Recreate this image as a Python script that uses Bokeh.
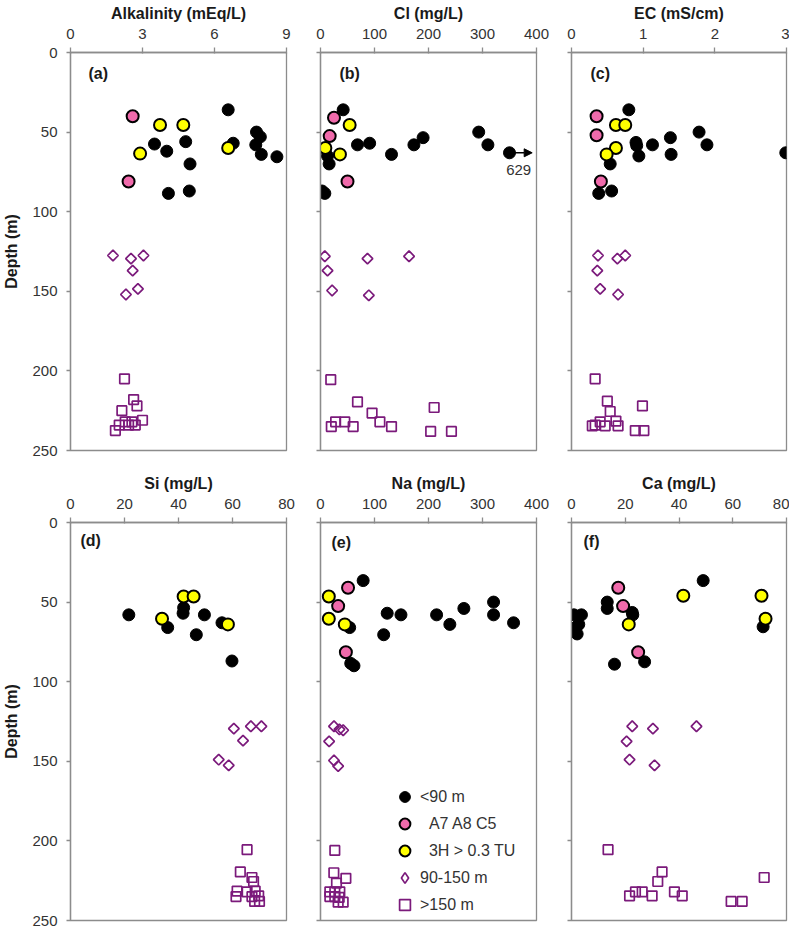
from bokeh.plotting import figure
from bokeh.models import Range1d, FixedTicker, Label, Arrow, NormalHead, Legend, LegendItem
from bokeh.layouts import column, row
from bokeh.embed import file_html
from bokeh.resources import INLINE
import numpy as np

# ---------------- data: (value, depth m) ----------------
DEPTH_TICKS = [0, 50, 100, 150, 200, 250]

ALK_TICKS = [0, 3, 6, 9]
ALK_SHALLOW = [(6.57, 36), (3.50, 57.5), (4.01, 62), (4.80, 56), (4.98, 70), (4.08, 88.5), (4.95, 87),
               (6.78, 57), (7.75, 50), (7.91, 53), (7.72, 58), (7.95, 64), (8.6, 65.5)]
ALK_A7A8C5 = [(2.59, 40), (2.42, 81)]
ALK_TRITIUM = [(3.73, 45.5), (4.70, 45.5), (2.90, 63.5), (6.57, 60)]
ALK_MID = [(1.77, 127.5), (2.52, 129.5), (3.04, 127.5), (2.59, 137), (2.81, 148.5), (2.31, 152)]
ALK_DEEP = [(2.25, 205), (2.63, 218), (2.77, 222), (2.14, 225), (3.00, 231), (2.28, 232), (2.56, 232),
            (2.03, 234), (2.42, 234), (2.70, 234), (1.87, 237.5)]

CL_TICKS = [0, 100, 200, 300, 400]
CL_SHALLOW = [(42, 36), (68.5, 58), (91, 57), (131.5, 64), (173, 58), (190, 53.5), (293, 50), (310, 58),
              (13, 65), (16, 70), (3, 87), (8, 88.5)]
CL_OFFSCALE_VALUE = 629
CL_OFFSCALE_DEPTH = 63
CL_OFFSCALE_PLOT = 350
CL_A7A8C5 = [(25, 41), (17, 52.5), (50, 81)]
CL_TRITIUM = [(54, 45.5), (9, 60), (36, 64)]
CL_MID = [(8, 128), (87, 129.5), (164, 128), (13, 137), (21.5, 149.5), (89.5, 152.5)]
CL_DEEP = [(19, 205.5), (68.5, 219.5), (95.5, 226.5), (210.5, 223), (28, 232), (45, 232), (20, 235),
           (60.5, 235), (110, 232), (131.5, 235), (204, 238), (242.5, 238)]

EC_TICKS = [0, 1, 2, 3]
EC_SHALLOW = [(0.80, 36), (0.90, 56.5), (0.91, 58.5), (0.94, 65), (1.13, 58), (1.38, 53.5), (1.39, 64),
              (1.78, 50), (1.89, 58), (2.99, 63), (0.54, 70), (0.38, 88.5), (0.56, 87)]
EC_A7A8C5 = [(0.35, 40), (0.35, 52), (0.41, 81)]
EC_TRITIUM = [(0.62, 45.5), (0.75, 45.5), (0.62, 60), (0.49, 64)]
EC_MID = [(0.37, 127.5), (0.64, 129.5), (0.75, 127.5), (0.36, 137), (0.40, 148.5), (0.65, 152)]
EC_DEEP = [(0.33, 205), (0.50, 219), (0.54, 225.5), (0.99, 222), (0.33, 234), (0.40, 232), (0.47, 234.5),
           (0.62, 231.5), (0.65, 234.5), (0.89, 237.5), (1.01, 237.5), (0.29, 234.5)]

SI_TICKS = [0, 20, 40, 60, 80]
SI_SHALLOW = [(21.6, 58), (41.9, 53.5), (41.7, 57), (49.6, 58), (36, 66), (46.6, 70.5), (56.1, 63), (59.8, 87)]
SI_A7A8C5 = []
SI_TRITIUM = [(41.9, 46.5), (45.6, 46.5), (33.9, 60.5), (58.3, 64)]
SI_MID = [(60.5, 129.5), (66.8, 128), (70.7, 128), (63.9, 137), (54.9, 149), (58.6, 152.5)]
SI_DEEP = [(65.4, 205.5), (62.9, 219.5), (67.2, 223), (67.8, 225.5), (61.7, 231.5), (65.4, 232), (68.4, 231.5),
           (61.3, 235), (67.2, 235), (69.7, 234.5), (68.2, 238), (70, 238)]

NA_TICKS = [0, 100, 200, 300, 400]
NA_SHALLOW = [(79, 36.5), (123.5, 57), (149, 58), (215, 58), (239.5, 64), (265.5, 54), (320.5, 50), (320.5, 58),
              (357.5, 63), (117, 70.5), (54, 66), (56, 88.5), (62, 90)]
NA_A7A8C5 = [(51, 41), (32.7, 52.5), (47, 81.5)]
NA_TRITIUM = [(15.4, 46.5), (15.4, 60.5), (45, 64)]
NA_MID = [(25, 128), (35, 130), (42, 130.5), (16, 137.5), (25, 149.5), (32.7, 153)]
NA_DEEP = [(26.5, 206), (24.7, 220), (47, 223.5), (29.6, 226.5), (17.3, 232), (26.5, 232), (35.8, 232),
           (17.3, 235), (26.5, 235), (34.6, 235.5), (32.7, 238.5), (42, 238.5)]

CA_TICKS = [0, 20, 40, 60, 80]
CA_SHALLOW = [(49, 36.5), (13.3, 50), (13.3, 54), (22.6, 56.5), (22.8, 58), (0.9, 58), (3.7, 58), (2.7, 64),
              (1.5, 66), (2.1, 70), (71.3, 65.5), (16, 89), (27.2, 87.5)]
CA_A7A8C5 = [(17.4, 41), (19.2, 52.5), (24.8, 81.5)]
CA_TRITIUM = [(41.6, 46), (70.7, 46), (72.2, 60.5), (21.3, 64)]
CA_MID = [(22.6, 128), (30.3, 129.5), (46.5, 128), (20.5, 137.5), (21.6, 149), (30.9, 152.5)]
CA_DEEP = [(13.6, 205.5), (33.7, 219.5), (32.1, 225.5), (71.7, 223), (23.8, 232), (26.3, 232), (21.6, 234.5),
           (30, 234.5), (38.3, 232), (41.2, 234.5), (59.4, 238), (63.5, 238)]

LEGEND_LABELS = ["<90 m", "\u00a0\u00a0A7 A8 C5", "\u00a0\u00a03H > 0.3 TU", "90-150 m", ">150 m"]

# ---------------- style ----------------
FONT = "Liberation Sans"
AXIS_GRAY = "#8c8c8c"
PINK = "#f06aab"
YELLOW = "#ffff00"
PURPLE = "#7b1a7b"
FRAME_H = 398


def xy(pairs):
    return [p[0] for p in pairs], [p[1] for p in pairs]


def make_panel(title, xmax, xticks, groups, tag, tag_px, show_y, bl, br, bt, bb, fw=216):
    p = figure(frame_width=fw, frame_height=FRAME_H, x_range=Range1d(0, xmax), y_range=Range1d(250, 0),
               x_axis_location="above", output_backend="svg", toolbar_location=None,
               min_border_left=bl, min_border_right=br, min_border_top=bt, min_border_bottom=bb,
               background_fill_color="white", border_fill_color="white")
    p.grid.visible = False
    p.outline_line_color = AXIS_GRAY
    p.outline_line_width = 1.3

    xa = p.xaxis[0]
    xa.ticker = FixedTicker(ticks=xticks)
    xa.axis_label = title
    xa.axis_label_text_font = FONT
    xa.axis_label_text_font_style = "bold"
    xa.axis_label_text_font_size = "16px"
    xa.axis_label_text_color = "#1a1a1a"
    xa.axis_label_standoff = 4
    xa.major_label_text_font = FONT
    xa.major_label_text_font_size = "15px"
    xa.major_label_text_color = "#333333"
    xa.major_label_standoff = 9
    xa.axis_line_color = AXIS_GRAY
    xa.axis_line_width = 1.3
    xa.major_tick_line_color = AXIS_GRAY
    xa.major_tick_line_width = 1.3
    xa.major_tick_in = 1
    xa.major_tick_out = 5
    xa.minor_tick_line_color = None

    ya = p.yaxis[0]
    ya.ticker = FixedTicker(ticks=DEPTH_TICKS)
    ya.axis_line_color = AXIS_GRAY
    ya.axis_line_width = 1.3
    ya.major_tick_line_color = AXIS_GRAY
    ya.major_tick_line_width = 1.3
    ya.major_tick_in = 0
    ya.major_tick_out = 4
    ya.minor_tick_line_color = None
    if show_y:
        ya.axis_label = "Depth (m)"
        ya.axis_label_text_font = FONT
        ya.axis_label_text_font_style = "bold"
        ya.axis_label_text_font_size = "16px"
        ya.axis_label_text_color = "#1a1a1a"
        ya.axis_label_standoff = 9
        ya.major_label_text_font = FONT
        ya.major_label_text_font_size = "15px"
        ya.major_label_text_color = "#333333"
        ya.major_label_standoff = 9
    else:
        ya.major_label_overrides = {t: "" for t in DEPTH_TICKS}
        ya.major_label_text_font_size = "1px"
        ya.major_label_standoff = 0

    shallow, pink, yellow, mid, deep = groups
    x, y = xy(shallow)
    p.scatter(x, y, marker="circle", size=12, fill_color="black", line_color="black", line_width=1)
    x, y = xy(pink)
    p.scatter(x, y, marker="circle", size=12, fill_color=PINK, line_color="black", line_width=2)
    x, y = xy(yellow)
    p.scatter(x, y, marker="circle", size=12, fill_color=YELLOW, line_color="black", line_width=2)
    x, y = xy(mid)
    p.scatter(x, y, marker="square", angle=np.pi / 4, size=7.5, fill_color="white",
              fill_alpha=0, line_color=PURPLE, line_width=1.7)
    x, y = xy(deep)
    p.scatter(x, y, marker="square", size=9.5, fill_color="white", fill_alpha=0,
              line_color=PURPLE, line_width=1.7)

    # panel tag, placed by pixel offset inside the frame
    tx = tag_px[0] / fw * xmax
    ty = tag_px[1] / FRAME_H * 250
    p.add_layout(Label(x=tx, y=ty, text=tag, text_font=FONT, text_font_style="bold",
                       text_font_size="16px", text_color="#1a1a1a", text_baseline="middle", text_align="left"))
    return p


pa = make_panel("Alkalinity (mEq/L)", 9, ALK_TICKS,
                (ALK_SHALLOW, ALK_A7A8C5, ALK_TRITIUM, ALK_MID, ALK_DEEP), "(a)", (18, 21), True, 68, 17, 52, 20)
pb = make_panel("Cl (mg/L)", 400, CL_TICKS,
                (CL_SHALLOW, CL_A7A8C5, CL_TRITIUM, CL_MID, CL_DEEP), "(b)", (19, 21), False, 17, 17, 52, 20)
pc = make_panel("EC (mS/cm)", 3, EC_TICKS,
                (EC_SHALLOW, EC_A7A8C5, EC_TRITIUM, EC_MID, EC_DEEP), "(c)", (19, 21), False, 18, 3, 52, 20, fw=215)
pd = make_panel("Si (mg/L)", 80, SI_TICKS,
                (SI_SHALLOW, SI_A7A8C5, SI_TRITIUM, SI_MID, SI_DEEP), "(d)", (10, 18), True, 68, 17, 52, 9)
pe = make_panel("Na (mg/L)", 400, NA_TICKS,
                (NA_SHALLOW, NA_A7A8C5, NA_TRITIUM, NA_MID, NA_DEEP), "(e)", (11, 20), False, 17, 17, 52, 9)
pf = make_panel("Ca (mg/L)", 80, CA_TICKS,
                (CA_SHALLOW, CA_A7A8C5, CA_TRITIUM, CA_MID, CA_DEEP), "(f)", (12, 19), False, 18, 3, 52, 9, fw=215)

# off-scale chloride value drawn at the panel edge with an arrow
pb.scatter([CL_OFFSCALE_PLOT], [CL_OFFSCALE_DEPTH], marker="circle", size=12, fill_color="black", line_color="black")
pb.add_layout(Arrow(x_start=CL_OFFSCALE_PLOT, y_start=CL_OFFSCALE_DEPTH,
                    x_end=CL_OFFSCALE_PLOT + 42, y_end=CL_OFFSCALE_DEPTH,
                    line_color="black", line_width=1.5,
                    end=NormalHead(size=8, fill_color="black", line_color="black")))
pb.add_layout(Label(x=CL_OFFSCALE_PLOT + 17, y=CL_OFFSCALE_DEPTH + 11, text=str(CL_OFFSCALE_VALUE),
                    text_font=FONT, text_font_size="15px", text_color="#333333",
                    text_align="center", text_baseline="middle"))

# legend-only glyphs (a single NaN point, nothing drawn in the frame) so the key markers
# can be sized like the original key
NAN = [np.nan]
leg_rends = [
    pe.scatter(NAN, NAN, marker="circle", fill_color="black", line_color="black", line_width=1),
    pe.scatter(NAN, NAN, marker="circle", fill_color=PINK, line_color="black", line_width=2),
    pe.scatter(NAN, NAN, marker="circle", fill_color=YELLOW, line_color="black", line_width=2),
    pe.scatter(NAN, NAN, marker="diamond", fill_color="white", line_color=PURPLE, line_width=1.7),
    pe.scatter(NAN, NAN, marker="square", fill_color="white", line_color=PURPLE, line_width=1.7),
]
legend = Legend(items=[LegendItem(label=lab, renderers=[r]) for lab, r in zip(LEGEND_LABELS, leg_rends)],
                location=(71, 2), glyph_width=27, glyph_height=27, spacing=0, padding=0, margin=0,
                label_text_font=FONT, label_text_font_size="16px", label_text_color="#333333",
                label_standoff=2, background_fill_alpha=0, border_line_color=None)
pe.add_layout(legend)

layout = column(row(pa, pb, pc), row(pd, pe, pf))
open("out.html", "w").write(file_html(layout, INLINE))
